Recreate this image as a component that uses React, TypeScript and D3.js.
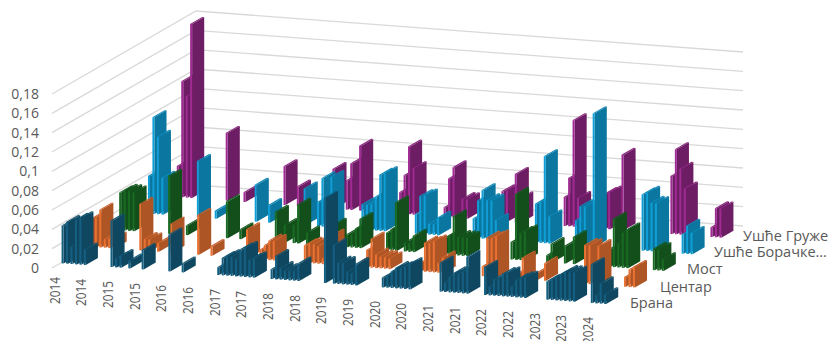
import React from "react";
import * as d3 from "d3";

const yearLabels = ["2014","2014","2015","2015","2016","2016","2017","2017","2018","2018","2019","2019","2020","2020","2021","2021","2022","2022","2023","2023","2024"];
const yTicks = [0, 0.02, 0.04, 0.06, 0.08, 0.1, 0.12, 0.14, 0.16, 0.18];
const categoryCount = 123;
const labelEvery = 6;

// Sparse monthly samples per station: [month index, value]
const brana: [number, number][] = [
  [0,.039],[1,.043],[2,.018],[3,.046],[4,.048],[5,.016],[11,.048],[12,.009],[13,.012],[15,.008],[18,.02],[24,.038],[27,.009],
  [35,.008],[36,.018],[37,.02],[38,.02],[39,.018],[40,.028],[41,.03],[42,.018],[43,.02],
  [47,.01],[48,.024],[49,.012],[50,.01],[51,.01],[52,.01],[53,.018],
  [59,.088],[61,.04],[62,.022],[63,.022],[64,.013],[65,.012],[66,.022],
  [72,.01],[73,.012],[74,.017],[75,.021],[76,.021],[77,.023],[78,.026],
  [85,.03],[86,.01],[87,.016],[88,.02],[89,.02],[90,.022],[91,.038],
  [95,.029],[96,.009],[97,.017],[98,.018],[99,.023],[100,.024],[101,.011],[102,.018],[103,.02],[104,.021],
  [109,.019],[110,.021],[111,.024],[112,.027],[113,.03],[114,.03],[115,.03],
  [119,.04],[120,.008],[121,.021],[122,.01],
];
const centar: [number, number][] = [
  [0,.029],[1,.03],[2,.039],[3,.009],[4,.01],[5,.01],[11,.048],[12,.012],[13,.012],[15,.009],[18,.03],[24,.041],[27,.01],
  [35,.03],[38,.01],[39,.015],[40,.02],[41,.02],
  [48,.018],[49,.02],[50,.02],[51,.018],[52,.006],[54,.03],
  [61,.007],[62,.018],[63,.03],[64,.014],[65,.012],[66,.012],[67,.011],
  [74,.009],[75,.03],[76,.03],[77,.032],[78,.01],[79,.016],
  [88,.01],[89,.04],[90,.04],[91,.042],
  [96,.006],[97,.022],[100,.007],[102,.018],
  [111,.04],[112,.04],[113,.008],[114,.04],
  [120,.01],[121,.018],[122,.021],
];
const most: [number, number][] = [
  [0,.039],[1,.041],[2,.041],[3,.04],[11,.06],[15,.01],[24,.038],[27,.01],
  [35,.031],[37,.018],[39,.019],[40,.04],[42,.012],
  [48,.022],[51,.013],[52,.013],[53,.02],[54,.03],
  [60,.018],[61,.022],[62,.05],[64,.009],[65,.009],[66,.017],
  [73,.017],[74,.02],[75,.04],[76,.019],[77,.019],[78,.019],
  [88,.018],[89,.068],[90,.028],[91,.03],
  [96,.007],[97,.019],[100,.018],[102,.028],
  [110,.018],[111,.05],[112,.025],[113,.036],[114,.04],
  [120,.022],[121,.022],[122,.012],
];
const usceBorace: [number, number][] = [
  [0,.039],[1,.1],[2,.08],[3,.038],[11,.058],[15,.008],[24,.038],[27,.018],
  [35,.038],[38,.025],[39,.05],[41,.052],
  [48,.026],[49,.026],[50,.027],[51,.035],[52,.058],[53,.06],
  [60,.02],[61,.039],[62,.04],[63,.011],[64,.011],[65,.018],
  [73,.02],[74,.039],[75,.05],[76,.04],[77,.04],[78,.02],
  [87,.04],[88,.042],[89,.09],[90,.028],
  [96,.026],[97,.041],[98,.041],[100,.138],
  [111,.058],[112,.06],[113,.05],[114,.05],
  [120,.02],[121,.029],[122,.022],
];
const usceGruze: [number, number][] = [
  [0,.032],[1,.12],[2,.105],[3,.18],[11,.07],[15,.01],[24,.04],[27,.02],
  [35,.041],[38,.03],[39,.048],[41,.067],
  [50,.022],[51,.04],[52,.07],[53,.048],
  [60,.01],[61,.04],[62,.052],[64,.02],[65,.02],
  [73,.031],[74,.032],[76,.05],[77,.025],
  [87,.03],[88,.05],[89,.11],[90,.03],
  [96,.036],[97,.038],[100,.078],
  [111,.06],[112,.088],[113,.068],[114,.048],
  [120,.01],[121,.03],[122,.03],
];

const seriesNames = ["Брана", "Центар", "Мост", "Ушће Борачке…", "Ушће Груже"];
const seriesValues = [brana, centar, most, usceBorace, usceGruze];
const frontColors = ["#156082", "#E97132", "#196B24", "#0F9ED5", "#A02B93"];
const sideColors = ["#0F4761", "#AE5526", "#124F1B", "#0B769F", "#6D1D64"];
const topColors = ["#125470", "#C9622B", "#155A1F", "#0D88B8", "#8A257F"];
const legendX = [630, 660, 687, 714, 743];
const legendY = [308, 291.5, 274, 257, 240.5];

// Oblique projection of the chart box: floor corners and wall height in pixels
const origin = { x: 52, y: 268 };
const depthVec = { x: 144, y: -83 };
const widthVec = { x: 547, y: 41 };

const catScale = d3.scaleLinear().domain([0, categoryCount]).range([0, 1]);
const depthScale = d3.scaleLinear().domain([0, seriesNames.length]).range([0, 1]);
const heightScale = d3.scaleLinear().domain([0, 0.18]).range([0, 174]);

const BAR_W = 0.45; // share of a category slot
const BAR_D = 0.42; // share of a series slot

function project(cat: number, row: number, value: number): [number, number] {
  const u = catScale(cat);
  const v = depthScale(row);
  return [
    origin.x + widthVec.x * u + depthVec.x * v,
    origin.y + widthVec.y * u + depthVec.y * v - heightScale(value),
  ];
}

const pathOf = d3.line<[number, number]>();

function Bar({ cat, row, value }: { cat: number; row: number; value: number }) {
  const c0 = cat + (1 - BAR_W) / 2;
  const c1 = c0 + BAR_W;
  const r0 = row + (1 - BAR_D) / 2;
  const r1 = r0 + BAR_D;
  const side = [project(c1, r0, 0), project(c1, r1, 0), project(c1, r1, value), project(c1, r0, value)];
  const top = [project(c0, r0, value), project(c1, r0, value), project(c1, r1, value), project(c0, r1, value)];
  const front = [project(c0, r0, 0), project(c1, r0, 0), project(c1, r0, value), project(c0, r0, value)];
  return (
    <g>
      <path d={pathOf(side) + "Z"} fill={sideColors[row]} />
      <path d={pathOf(top) + "Z"} fill={topColors[row]} />
      <path d={pathOf(front) + "Z"} fill={frontColors[row]} />
    </g>
  );
}

const font = "'Open Sans', 'Noto Sans', sans-serif";

export default function App() {
  const rows = d3.range(seriesNames.length).reverse();
  return (
    <svg width={833} height={341} style={{ position: "absolute", left: 0, top: 0, background: "#fff" }}>
      {yTicks.map((t) => {
        const a = project(0, 0, t);
        const b = project(0, 5, t);
        const c = project(categoryCount, 5, t);
        return (
          <g key={t}>
            <path d={pathOf([a, b, c]) ?? ""} fill="none" stroke="#D9D9D9" strokeWidth={1.3} />
            <text x={a[0] - 13} y={a[1] + 5} textAnchor="end" fontFamily={font} fontSize={14} fill="#595959">
              {String(t).replace(".", ",")}
            </text>
          </g>
        );
      })}
      {rows.map((row) =>
        [...seriesValues[row]].sort((p, q) => p[0] - q[0]).map(([cat, value]) => (
          <Bar key={`${row}-${cat}`} cat={cat} row={row} value={value} />
        ))
      )}
      {yearLabels.map((label, i) => {
        const [px, py] = project(i * labelEvery, 0, 0);
        return (
          <text
            key={i}
            transform={`translate(${px + 7.5},${py + 9}) rotate(-90)`}
            textAnchor="end"
            fontFamily={font}
            fontSize={14}
            textLength={27}
            lengthAdjust="spacingAndGlyphs"
            fill="#595959"
          >
            {label}
          </text>
        );
      })}
      {seriesNames.map((name, row) => (
        <text key={name} x={legendX[row]} y={legendY[row]} fontFamily={font} fontSize={14.5} fill="#595959">
          {name}
        </text>
      ))}
    </svg>
  );
}
